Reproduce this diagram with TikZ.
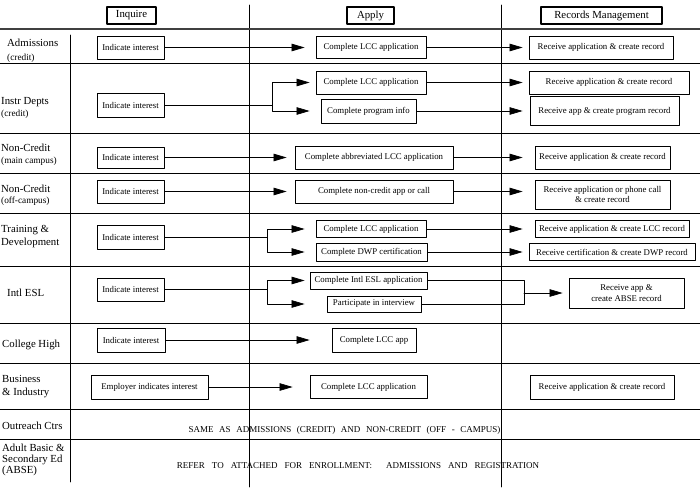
\documentclass[tikz,border=0pt]{standalone}
\usepackage{fontspec}
\setmainfont{Liberation Serif}
\usetikzlibrary{arrows.meta}

\begin{document}
\begin{tikzpicture}[line cap=round,line join=round,>={Triangle[length=13pt,width=7.5pt]},x=1pt,y=-1pt,
		box/.style={draw,line width=0.8pt,inner sep=1pt,font=\fontsize{8.8}{10.5}\selectfont,align=center},
		head/.style={draw,line width=1.5pt,inner sep=1pt,font=\fontsize{10.8}{12}\selectfont},
		rowlab/.style={anchor=base west,inner sep=0pt,font=\fontsize{10.8}{12}\selectfont},
		rowsub/.style={anchor=base west,inner sep=0pt,font=\fontsize{9.3}{10}\selectfont},
		capnote/.style={inner sep=0pt,font=\fontsize{9}{11}\selectfont},
		flow/.style={->,line width=0.7pt,shorten >=8pt},
		link/.style={line width=0.7pt},
		rule/.style={line width=0.9pt}]
		\useasboundingbox (0,0) rectangle (700,487);
		\draw [rule] (249,5) -- (249,487);
		\draw [rule] (501,5) -- (501,487);
		\draw [rule] (70,35) -- (70,482);
		\draw [line width=1.8pt,color=black!75] (0,29) -- (700,29);
		\foreach \y in {63,133,173,213,266,323,363,409,439}
			\draw [rule] (0,\y) -- (700,\y);
		\node [head,minimum width=49,minimum height=17] (hInq) at (131.5,15.5) {Inquire};
		\node [head,minimum width=47,minimum height=17] (hApp) at (370.5,15.5) {Apply};
		\node [head,minimum width=121,minimum height=17] (hRec) at (601.5,15.5) {Records Management};
		\node [rowlab] (lAdm) at (7,47) {Admissions};
		\node [rowsub] (lAdmS) at (7,60) {(credit)};
		\node [rowlab] (lIns) at (1,104) {Instr Depts};
		\node [rowsub] (lInsS) at (1,116) {(credit)};
		\node [rowlab] (lNcm) at (1,151) {Non-Credit};
		\node [rowsub] (lNcmS) at (1,163) {(main campus)};
		\node [rowlab] (lNco) at (1,192) {Non-Credit};
		\node [rowsub] (lNcoS) at (1,203) {(off-campus)};
		\node [rowlab] (lTrn) at (1,232) {Training \&};
		\node [rowlab] (lTrnS) at (1,245) {Development};
		\node [rowlab] (lEsl) at (7,296) {Intl ESL};
		\node [rowlab] (lCol) at (2,347) {College High};
		\node [rowlab] (lBus) at (2,382) {Business};
		\node [rowlab] (lBusS) at (2,395) {\& Industry};
		\node [rowlab] (lOut) at (2,429) {Outreach Ctrs};
		\node [rowlab] (lAbe) at (2,451) {Adult Basic \&};
		\node [rowlab] (lAbeS) at (2,462) {Secondary Ed};
		\node [rowlab] (lAbeT) at (2,473) {(ABSE)};
		\node [box,minimum width=67,minimum height=23] (iAdm) at (130.5,47.5) {Indicate interest};
		\node [box,minimum width=67,minimum height=24] (iIns) at (130.5,105) {Indicate interest};
		\node [box,minimum width=67,minimum height=21] (iNcm) at (130.5,157.5) {Indicate interest};
		\node [box,minimum width=67,minimum height=23] (iNco) at (130.5,191.5) {Indicate interest};
		\node [box,minimum width=67,minimum height=24] (iTrn) at (130.5,237) {Indicate interest};
		\node [box,minimum width=67,minimum height=23] (iEsl) at (130.5,289.5) {Indicate interest};
		\node [box,minimum width=68,minimum height=24] (iCol) at (131,340) {Indicate interest};
		\node [box,minimum width=117,minimum height=24] (iBus) at (149.5,387) {Employer indicates interest};
		\node [box,minimum width=110,minimum height=22] (aAdm) at (371,47.5) {Complete LCC application};
		\node [box,minimum width=110,minimum height=23] (aInsL) at (371,82.5) {Complete LCC application};
		\node [box,minimum width=95,minimum height=24] (aInsP) at (368.5,111) {Complete program info};
		\node [box,minimum width=158,minimum height=23] (aNcm) at (374,157.5) {Complete abbreviated LCC application};
		\node [box,minimum width=158,minimum height=23] (aNco) at (374,191.5) {Complete non-credit app or call};
		\node [box,minimum width=110,minimum height=17] (aTrnL) at (371,229) {Complete LCC application};
		\node [box,minimum width=111,minimum height=18] (aTrnD) at (371.5,252) {Complete DWP certification};
		\node [box,minimum width=117,minimum height=17] (aEslA) at (368.5,280.5) {Complete Intl ESL application};
		\node [box,minimum width=94,minimum height=16] (aEslI) at (374,304) {Participate in interview};
		\node [box,minimum width=84,minimum height=24] (aCol) at (374,340) {Complete LCC app};
		\node [box,minimum width=117,minimum height=23] (aBus) at (368.5,387) {Complete LCC application};
		\node [box,minimum width=144,minimum height=23] (rAdm) at (601,47.5) {Receive application \& create record};
		\node [box,minimum width=160,minimum height=23] (rInsL) at (609,82.5) {Receive application \& create record};
		\node [box,minimum width=149,minimum height=29] (rInsP) at (604.5,111) {Receive app \& create program record};
		\node [box,minimum width=135,minimum height=23] (rNcm) at (602.5,157.5) {Receive application \& create record};
		\node [box,minimum width=135,minimum height=29] (rNco) at (602.5,194.5) {Receive application or phone call\\\& create record};
		\node [box,minimum width=154,minimum height=17] (rTrnL) at (612,229) {Receive application \& create LCC record};
		\node [box,minimum width=166,minimum height=17] (rTrnD) at (612,252) {Receive certification \& create DWP record};
		\node [box,minimum width=115,minimum height=30] (rEsl) at (626.5,293) {Receive app \&\\create ABSE record};
		\node [box,minimum width=144,minimum height=24] (rBus) at (602,387) {Receive application \& create record};
		\coordinate (bIns) at (272,105);
		\coordinate (bTrn) at (267,237);
		\coordinate (bEsl) at (267,289.5);
		\coordinate (jEsl) at (524,293);
		\draw [flow,shorten >=11pt] (iAdm) -- (aAdm);
		\draw [link] (iIns) -- (bIns);
		\draw [flow,shorten >=6pt] (bIns) |- (aInsL.west);
		\draw [flow,shorten >=11pt] (bIns) |- (aInsP.west);
		\draw [flow] (iNcm) -- (aNcm);
		\draw [flow] (iNco) -- (aNco);
		\draw [link] (iTrn) -- (bTrn);
		\draw [flow,shorten >=11pt] (bTrn) |- (aTrnL.west);
		\draw [flow,shorten >=11pt] (bTrn) |- (aTrnD.west);
		\draw [link] (iEsl) -- (bEsl);
		\draw [flow,shorten >=5pt] (bEsl) |- (aEslA.west);
		\draw [flow,shorten >=22pt] (bEsl) |- (aEslI.west);
		\draw [flow,shorten >=22pt] (iCol) -- (aCol);
		\draw [flow,shorten >=17pt] (iBus) -- (aBus);
		\draw [flow,shorten >=6pt] (aAdm) -- (rAdm);
		\draw [flow,shorten >=6pt] (aInsL) -- (rInsL);
		\draw [flow,shorten >=7pt] (aInsP) -- (rInsP);
		\draw [flow,shorten >=12pt] (aNcm) -- (rNcm);
		\draw [flow,shorten >=12pt] (aNco.east) -- (rNco.west |- aNco.east);
		\draw [flow,shorten >=12pt] (aTrnL) -- (rTrnL);
		\draw [flow,shorten >=6pt] (aTrnD) -- (rTrnD);
		\draw [link] (aEslA.east) -| (jEsl) |- (aEslI.east);
		\draw [flow,shorten >=6pt] (jEsl) -- (rEsl);
		\node [capnote] (nOut) at (344.5,430) {\spaceskip=5.6pt\relax SAME AS ADMISSIONS (CREDIT) AND NON-CREDIT (OFF - CAMPUS)};
		\node [capnote] (nAbe) at (358,466) {\spaceskip=7pt\relax REFER TO ATTACHED FOR ENROLLMENT:\ \ ADMISSIONS AND REGISTRATION};
	\end{tikzpicture}
\end{document}
